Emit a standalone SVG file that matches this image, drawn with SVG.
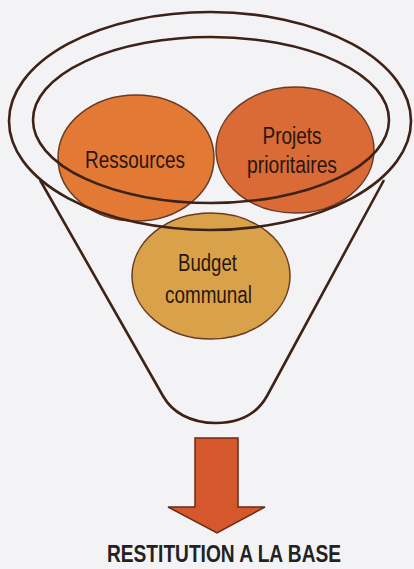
<svg xmlns="http://www.w3.org/2000/svg" width="414" height="569" viewBox="0 0 414 569">
<style>
.bg{fill:#F3F3F5}
.node{stroke:#6a3a22;stroke-width:1.5}
.ring{fill:none;stroke:#3e2218;stroke-width:2.6}
.lbl{font-family:"Liberation Sans",Arial,sans-serif;font-size:23px;fill:#2a1610;text-anchor:middle}
.title{font-family:"Liberation Sans",Arial,sans-serif;font-weight:bold;font-size:24px;fill:#222;text-anchor:middle}
</style>
<rect class="bg" x="0" y="0" width="414" height="569"/>
<g id="funnel-body">
<path class="ring" d="M40,180 L163,396 C172,412 190,423 216,423 C242,423 258,412 267,396 L384,180"/>
</g>
<g id="ressources">
<ellipse class="node" cx="136" cy="158" rx="78" ry="63" fill="#E27A35"/>
<text class="lbl" x="135" y="168" textLength="100" lengthAdjust="spacingAndGlyphs">Ressources</text>
</g>
<g id="projets">
<ellipse class="node" cx="295" cy="150" rx="79" ry="63" fill="#DA6A36"/>
<text class="lbl" x="292" y="144" textLength="59" lengthAdjust="spacingAndGlyphs">Projets</text>
<text class="lbl" x="292" y="173" textLength="90" lengthAdjust="spacingAndGlyphs">prioritaires</text>
</g>
<g id="budget">
<ellipse class="node" cx="211" cy="276" rx="79" ry="63" fill="#D9A24A"/>
<text class="lbl" x="207.5" y="271" textLength="59" lengthAdjust="spacingAndGlyphs">Budget</text>
<text class="lbl" x="208.5" y="303" textLength="87" lengthAdjust="spacingAndGlyphs">communal</text>
</g>
<g id="funnel-rim">
<ellipse class="ring" cx="210" cy="121" rx="201" ry="109"/>
<ellipse class="ring" cx="211" cy="120" rx="178" ry="83"/>
</g>
<g id="connectors">
<path d="M195,438 L238,438 L238,507 L265,507 L217,533 L168,507 L195,507 Z" fill="#D4582B" stroke="#6a2a18" stroke-width="1.5"/>
</g>
<g id="output">
<text class="title" x="224" y="562" textLength="234" lengthAdjust="spacingAndGlyphs">RESTITUTION A LA BASE</text>
</g>
</svg>
